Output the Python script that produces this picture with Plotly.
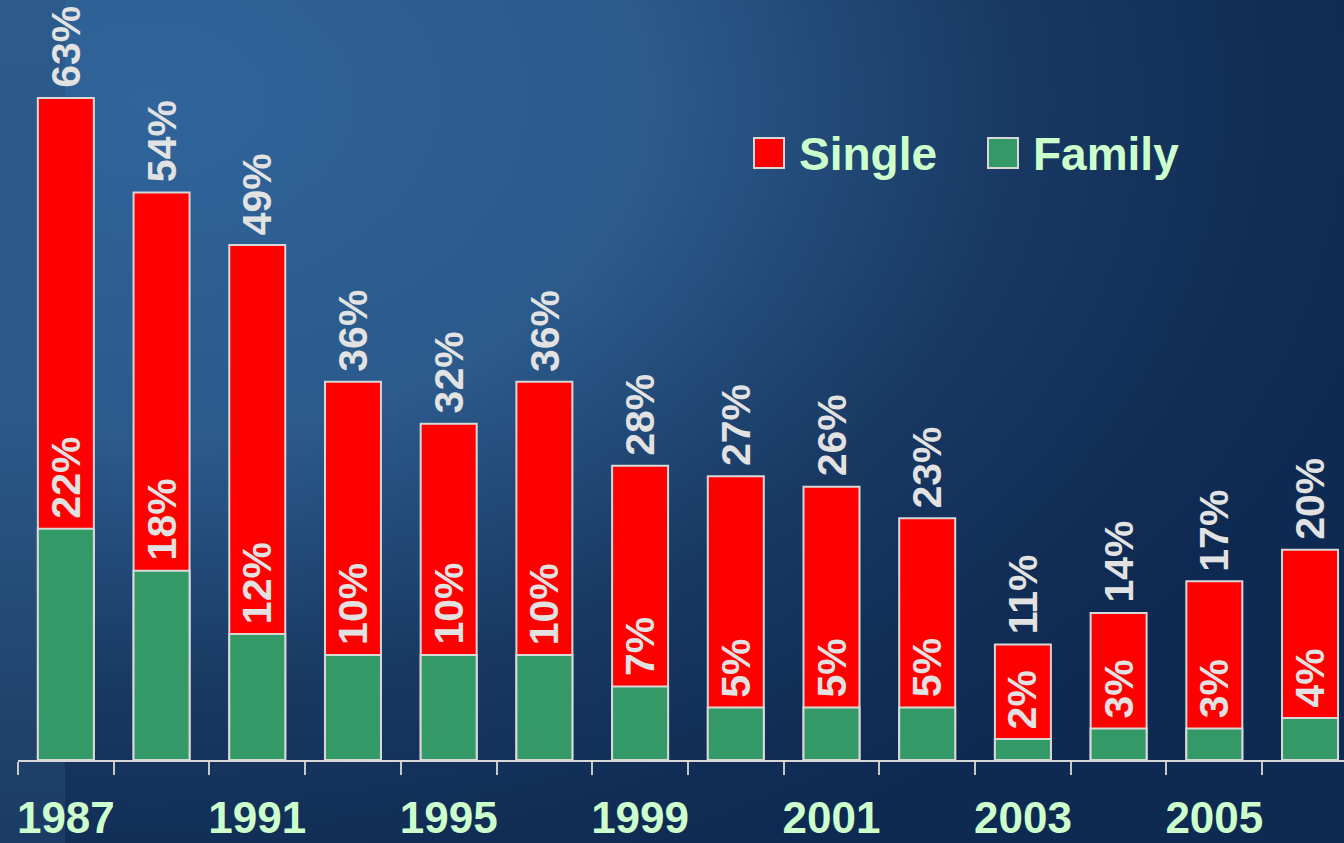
import base64
import plotly.graph_objects as go

# ---- data ----
years = ["1987", "1989", "1991", "1993", "1995", "1997", "1999",
         "2000", "2001", "2002", "2003", "2004", "2005", "2006"]
tick_labels = ["1987", "", "1991", "", "1995", "", "1999",
               "", "2001", "", "2003", "", "2005", ""]
single = [63, 54, 49, 36, 32, 36, 28, 27, 26, 23, 11, 14, 17, 20]
family = [22, 18, 12, 10, 10, 10, 7, 5, 5, 5, 2, 3, 3, 4]
series_names = ["Single", "Family"]

# ---- styles ----
RED = "#ff0000"
GREEN = "#339966"
OUTLINE = "#d8d8d8"
LABEL_GREY = "#e2e2e2"
LIGHT_GREEN = "#ccffcc"
FONT = "Liberation Sans, Arial, sans-serif"

W, H = 1344, 843
ML, MR, MT, MB = 18, 0, 0, 83
PW, PH = W - ML - MR, H - MT - MB

svg = f'''<svg xmlns="http://www.w3.org/2000/svg" width="{W}" height="{H}" viewBox="0 0 {W} {H}" preserveAspectRatio="none">
<defs>
<radialGradient id="g" gradientUnits="userSpaceOnUse" cx="150" cy="100" r="1250" gradientTransform="translate(150 100) scale(1 0.68) translate(-150 -100)">
<stop offset="0" stop-color="#30649a"/>
<stop offset="0.4" stop-color="#2b5a8b"/>
<stop offset="0.7" stop-color="#183862"/>
<stop offset="0.9" stop-color="#112d56"/>
<stop offset="1" stop-color="#0f2a52"/>
</radialGradient>
<linearGradient id="s" x1="0" y1="0" x2="0" y2="1">
<stop offset="0" stop-color="#2c5a8a"/>
<stop offset="0.5" stop-color="#2a5888"/>
<stop offset="0.88" stop-color="#1f416a"/>
<stop offset="1" stop-color="#1c3b64"/>
</linearGradient>
</defs>
<rect width="{W}" height="{H}" fill="url(#g)"/>
<rect width="65" height="{H}" fill="url(#s)"/>
</svg>'''
bg_uri = "data:image/svg+xml;base64," + base64.b64encode(svg.encode()).decode()

fig = go.Figure()
fig.add_trace(go.Bar(
    x=years, y=single, name=series_names[0], width=0.585,
    marker=dict(color=RED, line=dict(color=OUTLINE, width=2)),
    showlegend=False, hoverinfo="skip"))
fig.add_trace(go.Bar(
    x=years, y=family, name=series_names[1], width=0.585,
    marker=dict(color=GREEN, line=dict(color=OUTLINE, width=2)),
    showlegend=False, hoverinfo="skip"))

annotations = []
for i, (s, f) in enumerate(zip(single, family)):
    for val in (s, f):
        annotations.append(dict(
            x=i, y=val, xref="x", yref="y", text=f"{val}%",
            showarrow=False, textangle=-90, xanchor="center", yanchor="bottom",
            yshift=8, font=dict(family=FONT, size=41, color=LABEL_GREY, weight="bold")))

# legend (custom, large squares)
def px_x(p):
    return (p - ML) / PW

def px_y(p):
    return (MT + PH - p) / PH

legend_items = [(series_names[0], RED, 754), (series_names[1], GREEN, 988)]
shapes = []
for name, col, x0 in legend_items:
    shapes.append(dict(type="rect", xref="paper", yref="paper",
                       x0=px_x(x0), x1=px_x(x0 + 30), y0=px_y(168), y1=px_y(138),
                       fillcolor=col, line=dict(color=OUTLINE, width=2)))
    annotations.append(dict(x=px_x(x0 + 43), y=px_y(154), xref="paper", yref="paper",
                            text=name, showarrow=False, xanchor="left", yanchor="middle",
                            font=dict(family=FONT, size=46, color=LIGHT_GREEN, weight="bold")))

fig.update_layout(
    width=W, height=H,
    margin=dict(l=ML, r=MR, t=MT, b=MB, pad=0, autoexpand=False),
    barmode="overlay",
    paper_bgcolor="#163561",
    plot_bgcolor="rgba(0,0,0,0)",
    showlegend=False,
    annotations=annotations,
    shapes=shapes,
    images=[dict(source=bg_uri, xref="paper", yref="paper",
                 x=-ML / PW, y=1 + MT / PH, sizex=W / PW, sizey=H / PH,
                 xanchor="left", yanchor="top", sizing="stretch", layer="below")],
    xaxis=dict(
        type="category", range=[-0.5, 13.355], automargin=False,
        tickmode="array", tickvals=years, ticktext=tick_labels, tickangle=0,
        tickson="boundaries", ticks="outside", ticklen=13, tickwidth=2,
        tickcolor="#c8c8c8", showline=True, linecolor=OUTLINE, linewidth=2,
        showgrid=False, zeroline=False, ticklabelstandoff=18,
        tickfont=dict(family=FONT, size=44, color=LIGHT_GREEN, weight="bold"),
    ),
    yaxis=dict(visible=False, range=[0, PH / 10.508], showgrid=False,
               zeroline=False, automargin=False),
)

fig.write_html("out.html", config={"displayModeBar": False},
               post_script="document.body.style.margin='0';document.body.style.overflow='hidden';")
